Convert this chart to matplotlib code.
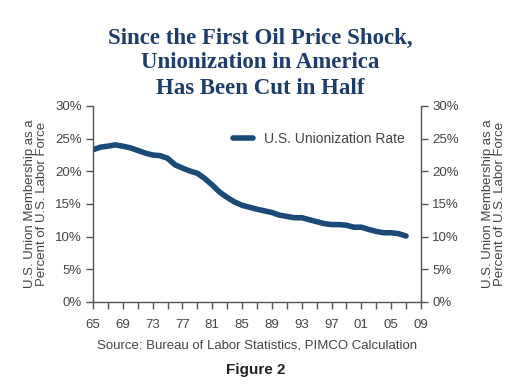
import matplotlib
matplotlib.use("Agg")
import matplotlib.pyplot as plt
from matplotlib.ticker import FuncFormatter, MultipleLocator

years = list(range(1965, 2008))
rate = [23.3, 23.7, 23.85, 24.05, 23.85, 23.6, 23.2, 22.8, 22.5, 22.4,
        22.0, 21.0, 20.5, 20.05, 19.7, 18.9, 17.9, 16.8, 16.0, 15.3,
        14.8, 14.5, 14.2, 13.95, 13.7, 13.3, 13.1, 12.9, 12.9, 12.6,
        12.3, 12.0, 11.85, 11.85, 11.75, 11.45, 11.45, 11.1, 10.8, 10.6,
        10.6, 10.45, 10.1]
major_years = list(range(1965, 2010, 4))
minor_years = list(range(1965, 2010, 2))

title = "Since the First Oil Price Shock,\nUnionization in America\nHas Been Cut in Half"
ylabel = "U.S. Union Membership as a\nPercent of U.S. Labor Force"
source = "Source: Bureau of Labor Statistics, PIMCO Calculation"

navy = "#1b4a78"
gray = "#444444"
plt.rcParams['font.family'] = ['Liberation Sans', 'DejaVu Sans']

fig = plt.figure(figsize=(5.2, 3.91), dpi=100)
ax = fig.add_axes([93 / 520, 1 - 302 / 391, 328 / 520, 196 / 391])

ax.plot(years, rate, color=navy, lw=4.0, solid_capstyle='round',
        solid_joinstyle='round', label="U.S. Unionization Rate")

ax.set_xlim(1965, 2009)
ax.set_ylim(0, 30)
ax.set_xticks(major_years)
ax.set_xticks(minor_years, minor=True)
ax.set_xticklabels([f"{y % 100:02d}" for y in major_years])
ax.yaxis.set_major_locator(MultipleLocator(5))
ax.yaxis.set_major_formatter(FuncFormatter(lambda v, p: f"{int(v)}%"))

ax.spines['top'].set_visible(False)
for s in ['left', 'right', 'bottom']:
    ax.spines[s].set_color("#555555")
    ax.spines[s].set_linewidth(1.0)
ax.tick_params(axis='both', which='both', direction='out', color="#555555",
               labelcolor=gray, labelsize=9.5, length=5, width=1.0)
ax.tick_params(axis='y', right=True, labelright=True, pad=3)
ax.tick_params(axis='x', pad=7)

ax.legend(loc='upper right', frameon=False, fontsize=10, handlelength=1.5,
          handletextpad=0.8, bbox_to_anchor=(0.99, 0.93), labelcolor=gray)

fig.text(36 / 520, 1 - 204 / 391, ylabel, rotation=90, ha='center', va='center',
         fontsize=9.5, color=gray, linespacing=1.0)
fig.text(494 / 520, 1 - 204 / 391, ylabel, rotation=90, ha='center', va='center',
         fontsize=9.5, color=gray, linespacing=1.0)

fig.text(0.5, 1 - 63 / 391, title, ha='center', va='center', fontsize=16.5,
         family=['Liberation Serif'], weight='bold', color="#1e3d6b",
         linespacing=1.25)
fig.text(257 / 520, 1 - 345 / 391, source, ha='center', va='center',
         fontsize=9.5, color=gray)
fig.text(256 / 520, 1 - 370 / 391, "Figure 2", ha='center', va='center',
         fontsize=11, weight='bold', color="#222222")

fig.savefig("out.png", dpi=100)
